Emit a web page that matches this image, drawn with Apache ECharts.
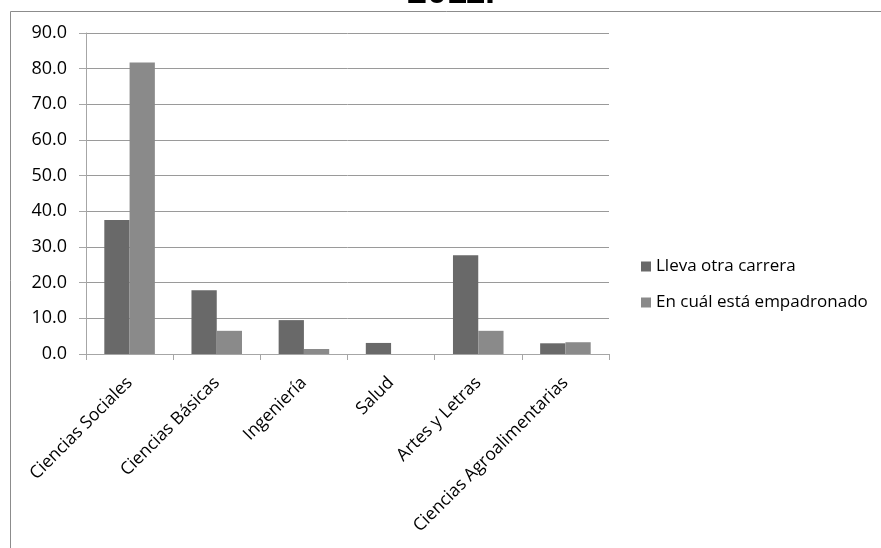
<!DOCTYPE html>
<html>
<head>
<meta charset="utf-8">
<script src="https://cdn.jsdelivr.net/npm/echarts@6/dist/echarts.min.js"></script>
<style>
  html, body { margin: 0; padding: 0; background: #fff; }
  #chart { width: 881px; height: 548px; }
</style>
</head>
<body>
<div id="chart"></div>
<script>
// Áreas de estudio
const categories = [
  'Ciencias Sociales',
  'Ciencias Básicas',
  'Ingeniería',
  'Salud',
  'Artes y Letras',
  'Ciencias Agroalimentarias'
];

const seriesNames = ['Lleva otra carrera', 'En cuál está empadronado'];

// Porcentajes por área
const llevaOtraCarrera = [37.6, 17.9, 9.5, 3.1, 27.7, 3.0];
const empadronado = [81.7, 6.5, 1.4, 0.0, 6.5, 3.3];

const yTicks = { min: 0, max: 90, interval: 10 };

const FONT = '"Open Sans", "Liberation Sans", sans-serif';

const chart = echarts.init(document.getElementById('chart'), null, { renderer: 'canvas' });

chart.setOption({
  backgroundColor: '#ffffff',
  animation: false,
  graphic: [
    {
      type: 'rect',
      shape: { x: 10.5, y: 11.5, width: 1000, height: 1000 },
      style: { fill: 'none', stroke: '#8c8c8c', lineWidth: 1 },
      silent: true,
      z: -1
    },
    {
      type: 'text',
      x: 451,
      y: 11.5,
      style: {
        text: '2011.',
        font: 'bold 36px "Liberation Sans", Arial, sans-serif',
        fill: '#000',
        align: 'center',
        verticalAlign: 'bottom'
      },
      silent: true
    }
  ],
  grid: { left: 86, right: 272, top: 33, bottom: 194, containLabel: false },
  legend: {
    orient: 'vertical',
    left: 641,
    top: 258,
    padding: 0,
    itemWidth: 10,
    itemHeight: 10,
    itemGap: 19,
    icon: 'rect',
    textStyle: { fontFamily: FONT, fontSize: 17, color: '#000', lineHeight: 17 },
    data: seriesNames
  },
  xAxis: {
    type: 'category',
    data: categories,
    axisLine: { show: true, lineStyle: { color: '#a6a6a6', width: 1 } },
    axisTick: { show: true, alignWithLabel: false, length: 6, lineStyle: { color: '#a6a6a6' } },
    axisLabel: {
      interval: 0,
      rotate: 45,
      margin: 26,
      fontFamily: FONT,
      fontSize: 17.5,
      color: '#000'
    }
  },
  yAxis: {
    type: 'value',
    min: yTicks.min,
    max: yTicks.max,
    interval: yTicks.interval,
    axisLine: { show: true, lineStyle: { color: '#a6a6a6', width: 1 } },
    axisTick: { show: true, length: 7, lineStyle: { color: '#a6a6a6' } },
    splitLine: { show: true, lineStyle: { color: '#9a9a9a', width: 1 } },
    axisLabel: {
      margin: 19,
      fontFamily: FONT,
      fontSize: 18,
      color: '#000',
      formatter: v => v.toFixed(1)
    }
  },
  series: [
    {
      name: seriesNames[0],
      type: 'bar',
      data: llevaOtraCarrera,
      barGap: '0%',
      barCategoryGap: '42%',
      itemStyle: { color: '#696969' }
    },
    {
      name: seriesNames[1],
      type: 'bar',
      data: empadronado,
      itemStyle: { color: '#8a8a8a' }
    }
  ]
});
</script>
</body>
</html>
